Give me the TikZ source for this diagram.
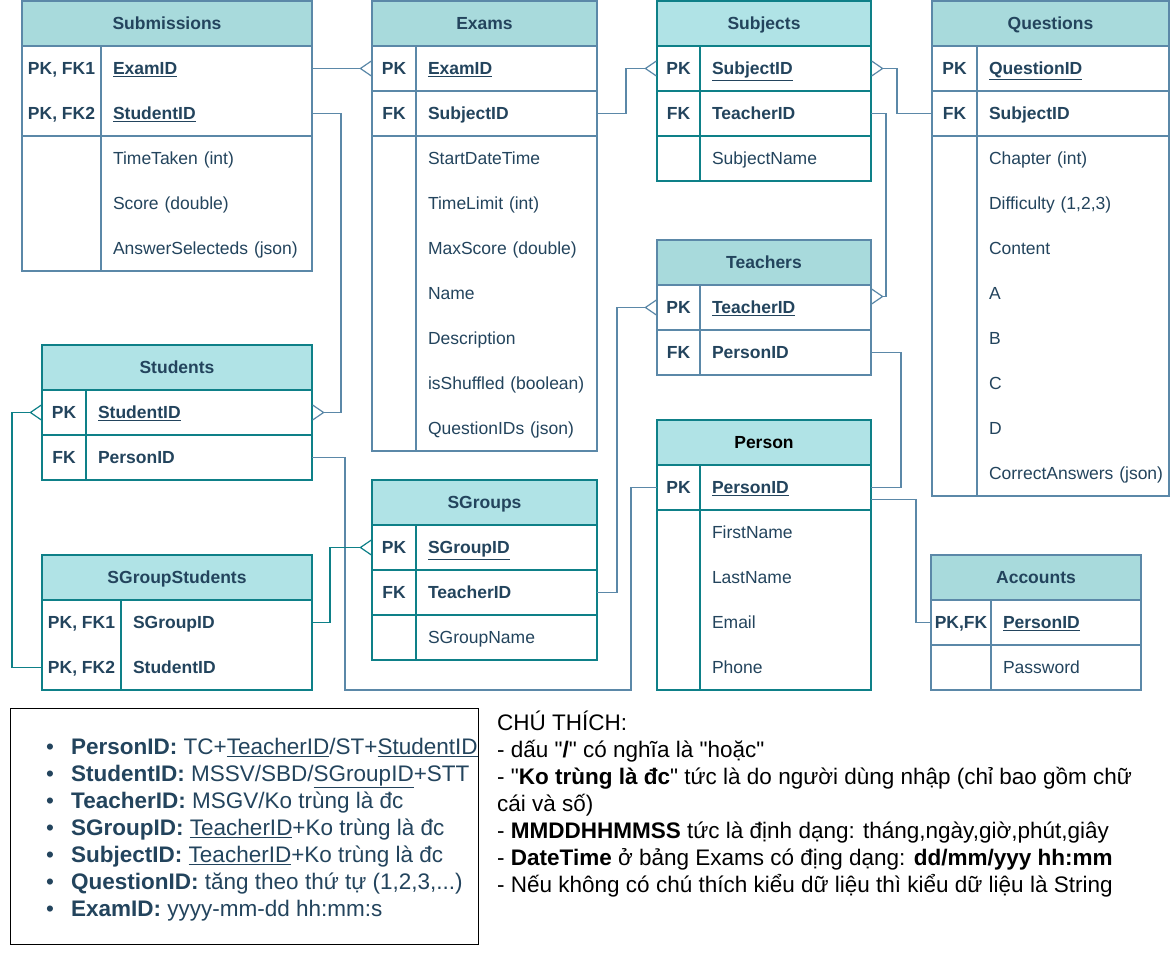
\documentclass[tikz,border=0pt]{standalone}
\usepackage{fontspec}
\setmainfont{Liberation Sans}
\usepackage{tikz}
\usetikzlibrary{positioning,arrows.meta}
\definecolor{inknavy}{HTML}{23445D}
\definecolor{steelline}{HTML}{5B88A8}
\definecolor{tealline}{HTML}{0E8088}
\definecolor{steelhead}{HTML}{A8DADC}
\definecolor{tealhead}{HTML}{B0E3E6}
\newcommand{\pkfield}[1]{\textbf{\underline{#1}}}
\newcommand{\qq}{\textquotedbl}

\begin{document}
\begin{tikzpicture}[
    x=1pt, y=-1pt,
    head/.style={draw=#1line, fill=#1head, line width=1.2pt, anchor=north west,
        minimum height=45pt, inner sep=0pt, outer sep=0pt, text height=16pt, text depth=3.5pt,
        text=inknavy, font=\fontsize{17.5}{21}\selectfont\bfseries},
    kcell/.style={anchor=north west, minimum width=#1, minimum height=45pt, inner sep=0pt,
        outer sep=0pt, text height=16pt, text depth=3.5pt, text=inknavy,
        font=\fontsize{17.5}{21}\selectfont\bfseries, line width=1.2pt},
    fcell/.style={anchor=north west, text width=#1, align=left, inner xsep=12pt, inner ysep=0pt,
        outer sep=0pt, minimum height=45pt, text height=16pt, text depth=3.5pt, text=inknavy,
        font=\fontsize{17.5}{21}\selectfont, line width=1.2pt},
    blk/.style={draw=#1line, line width=1.2pt},
    conn/.style={draw=#1line, line width=1.2pt},
    crow/.style={-{Straight Barb[reversed,length=11pt,width=15pt]}},
    crowstart/.style={{Straight Barb[reversed,length=11pt,width=15pt]}-},
    notetext/.style={anchor=north west, align=left, inner sep=0pt, font=\fontsize{22.5}{27}\selectfont}
]
\fill[white] (0,0) rectangle (1172,977);
\useasboundingbox (0,0) rectangle (1172,977);

% Submissions
\node[head=steel, minimum width=290pt] (sub) at (22,1) {Submissions};
\node[kcell=79pt] (sub-k1) at (sub.south west) {PK, FK1};
\node[kcell=79pt] (sub-k2) at (sub-k1.south west) {PK, FK2};
\node[fcell=187pt] (sub-f1) at (sub-k1.north east) {\pkfield{ExamID}};
\node[fcell=187pt] (sub-f2) at (sub-f1.south west) {\pkfield{StudentID}};
\node[kcell=79pt, minimum height=135pt, blk=steel] (sub-k3) at (sub-k2.south west) {};
\node[fcell=187pt] (sub-f3) at (sub-k3.north east) {TimeTaken (int)};
\node[fcell=187pt] (sub-f4) at (sub-f3.south west) {Score (double)};
\node[fcell=187pt] (sub-f5) at (sub-f4.south west) {AnswerSelecteds (json)};
\draw[blk=steel] (sub-k1.north west) rectangle (sub-k2.south east);
\draw[blk=steel] (sub-f1.north west) rectangle (sub-f2.south east);
\draw[blk=steel] (sub-f3.north west) rectangle (sub-f5.south east);

% Exams
\node[head=steel, minimum width=225pt] (exm) at (372,1) {Exams};
\node[kcell=44pt, blk=steel] (exm-k1) at (exm.south west) {PK};
\node[fcell=157pt, blk=steel] (exm-f1) at (exm-k1.north east) {\pkfield{ExamID}};
\node[kcell=44pt, blk=steel] (exm-k2) at (exm-k1.south west) {FK};
\node[fcell=157pt, blk=steel] (exm-f2) at (exm-k2.north east) {\textbf{SubjectID}};
\node[kcell=44pt, minimum height=315pt, blk=steel] (exm-k3) at (exm-k2.south west) {};
\node[fcell=157pt] (exm-f3) at (exm-k3.north east) {StartDateTime};
\node[fcell=157pt] (exm-f4) at (exm-f3.south west) {TimeLimit (int)};
\node[fcell=157pt] (exm-f5) at (exm-f4.south west) {MaxScore (double)};
\node[fcell=157pt] (exm-f6) at (exm-f5.south west) {Name};
\node[fcell=157pt] (exm-f7) at (exm-f6.south west) {Description};
\node[fcell=157pt] (exm-f8) at (exm-f7.south west) {\mbox{isShuffled (boolean)}};
\node[fcell=157pt] (exm-f9) at (exm-f8.south west) {QuestionIDs (json)};
\draw[blk=steel] (exm-f3.north west) rectangle (exm-f9.south east);

% Subjects
\node[head=teal, minimum width=214pt] (subj) at (657,1) {Subjects};
\node[kcell=43pt, blk=teal] (subj-k1) at (subj.south west) {PK};
\node[fcell=147pt, blk=teal] (subj-f1) at (subj-k1.north east) {\pkfield{SubjectID}};
\node[kcell=43pt, blk=teal] (subj-k2) at (subj-k1.south west) {FK};
\node[fcell=147pt, blk=teal] (subj-f2) at (subj-k2.north east) {\textbf{TeacherID}};
\node[kcell=43pt, blk=teal] (subj-k3) at (subj-k2.south west) {};
\node[fcell=147pt, blk=teal] (subj-f3) at (subj-k3.north east) {SubjectName};

% Questions
\node[head=steel, minimum width=237pt] (q) at (932,1) {Questions};
\node[kcell=45pt, blk=steel] (q-k1) at (q.south west) {PK};
\node[fcell=168pt, blk=steel] (q-f1) at (q-k1.north east) {\pkfield{QuestionID}};
\node[kcell=45pt, blk=steel] (q-k2) at (q-k1.south west) {FK};
\node[fcell=168pt, blk=steel] (q-f2) at (q-k2.north east) {\textbf{SubjectID}};
\node[kcell=45pt, minimum height=360pt, blk=steel] (q-k3) at (q-k2.south west) {};
\node[fcell=168pt] (q-f3) at (q-k3.north east) {Chapter (int)};
\node[fcell=168pt] (q-f4) at (q-f3.south west) {Difficulty (1,2,3)};
\node[fcell=168pt] (q-f5) at (q-f4.south west) {Content};
\node[fcell=168pt] (q-f6) at (q-f5.south west) {A};
\node[fcell=168pt] (q-f7) at (q-f6.south west) {B};
\node[fcell=168pt] (q-f8) at (q-f7.south west) {C};
\node[fcell=168pt] (q-f9) at (q-f8.south west) {D};
\node[fcell=168pt] (q-f10) at (q-f9.south west) {\mbox{CorrectAnswers (json)}};
\draw[blk=steel] (q-f3.north west) rectangle (q-f10.south east);

% Teachers
\node[head=steel, minimum width=214pt] (tch) at (657,240) {Teachers};
\node[kcell=43pt, blk=steel] (tch-k1) at (tch.south west) {PK};
\node[fcell=147pt, blk=steel] (tch-f1) at (tch-k1.north east) {\pkfield{TeacherID}};
\node[kcell=43pt, blk=steel] (tch-k2) at (tch-k1.south west) {FK};
\node[fcell=147pt, blk=steel] (tch-f2) at (tch-k2.north east) {\textbf{PersonID}};

% Person
\node[head=teal, minimum width=214pt, text=black] (per) at (657,420) {Person};
\node[kcell=43pt, blk=teal] (per-k1) at (per.south west) {PK};
\node[fcell=147pt, blk=teal] (per-f1) at (per-k1.north east) {\pkfield{PersonID}};
\node[kcell=43pt, minimum height=180pt, blk=teal] (per-k2) at (per-k1.south west) {};
\node[fcell=147pt] (per-f2) at (per-k2.north east) {FirstName};
\node[fcell=147pt] (per-f3) at (per-f2.south west) {LastName};
\node[fcell=147pt] (per-f4) at (per-f3.south west) {Email};
\node[fcell=147pt] (per-f5) at (per-f4.south west) {Phone};
\draw[blk=teal] (per-f2.north west) rectangle (per-f5.south east);

% Students
\node[head=teal, minimum width=270pt] (stu) at (42,345) {Students};
\node[kcell=44pt, blk=teal] (stu-k1) at (stu.south west) {PK};
\node[fcell=202pt, blk=teal] (stu-f1) at (stu-k1.north east) {\pkfield{StudentID}};
\node[kcell=44pt, blk=teal] (stu-k2) at (stu-k1.south west) {FK};
\node[fcell=202pt, blk=teal] (stu-f2) at (stu-k2.north east) {\textbf{PersonID}};

% SGroupStudents
\node[head=teal, minimum width=270pt] (sgs) at (42,555) {SGroupStudents};
\node[kcell=79pt] (sgs-k1) at (sgs.south west) {PK, FK1};
\node[kcell=79pt] (sgs-k2) at (sgs-k1.south west) {PK, FK2};
\node[fcell=167pt] (sgs-f1) at (sgs-k1.north east) {\textbf{SGroupID}};
\node[fcell=167pt] (sgs-f2) at (sgs-f1.south west) {\textbf{StudentID}};
\draw[blk=teal] (sgs-k1.north west) rectangle (sgs-k2.south east);
\draw[blk=teal] (sgs-f1.north west) rectangle (sgs-f2.south east);

% SGroups
\node[head=teal, minimum width=225pt] (sgr) at (372,480) {SGroups};
\node[kcell=44pt, blk=teal] (sgr-k1) at (sgr.south west) {PK};
\node[fcell=157pt, blk=teal] (sgr-f1) at (sgr-k1.north east) {\pkfield{SGroupID}};
\node[kcell=44pt, blk=teal] (sgr-k2) at (sgr-k1.south west) {FK};
\node[fcell=157pt, blk=teal] (sgr-f2) at (sgr-k2.north east) {\textbf{TeacherID}};
\node[kcell=44pt, blk=teal] (sgr-k3) at (sgr-k2.south west) {};
\node[fcell=157pt, blk=teal] (sgr-f3) at (sgr-k3.north east) {SGroupName};

% Accounts
\node[head=steel, minimum width=210pt] (acc) at (931,555) {Accounts};
\node[kcell=60pt, blk=steel] (acc-k1) at (acc.south west) {PK,FK};
\node[fcell=126pt, blk=steel] (acc-f1) at (acc-k1.north east) {\pkfield{PersonID}};
\node[kcell=60pt, blk=steel] (acc-k2) at (acc-k1.south west) {};
\node[fcell=126pt, blk=steel] (acc-f2) at (acc-k2.north east) {Password};

% relations
\draw[conn=steel, crow] (sub-f1.east) -- (exm-k1.west);
\draw[conn=steel, crow] (sub-f2.east) -- ++(29,0) |- (stu-f1.east);
\draw[conn=steel, crow] (exm-f2.east) -- ++(29,0) |- (subj-k1.west);
\draw[conn=steel, crowstart] (subj-f1.east) -- ++(26,0) |- (q-k2.west);
\draw[conn=steel, crow] (subj-f2.east) -- ++(15,0) |- ([yshift=11pt]tch-f1.east);
\draw[conn=steel, crow] (sgr-f2.east) -- ++(20,0) |- (tch-k1.west);
\draw[conn=steel] (tch-f2.east) -- ++(30,0) |- (per-f1.east);
\draw[conn=steel] ([yshift=-12pt]per-f1.east) -| ([xshift=-15pt]acc-k1.west) -- (acc-k1.west);
\draw[conn=steel] (stu-f2.east) -- ++(33,0) -- ++(0,232.5) -| ([xshift=-26pt]per-k1.west) -- (per-k1.west);
\draw[conn=teal, crow] (sgs-f1.east) -- ++(18,0) |- (sgr-k1.west);
\draw[conn=teal, crow] (sgs-k2.west) -- ++(-30,0) |- (stu-k1.west);

% legend
\node[draw=black, line width=1pt, anchor=north west, minimum width=468pt, minimum height=236pt,
    inner sep=0pt, outer sep=0pt] (legend) at (10,708) {};
\node[notetext, text=inknavy] (legtext) at (46,734) {%
\rule{0pt}{20pt}\makebox[25pt][l]{\textbullet}\textbf{PersonID:} TC+\underline{TeacherID}/ST+\underline{StudentID}\\
\makebox[25pt][l]{\textbullet}\textbf{StudentID:} MSSV/SBD/\underline{SGroupID}+STT\\
\makebox[25pt][l]{\textbullet}\textbf{TeacherID:} MSGV/Ko trùng là đc\\
\makebox[25pt][l]{\textbullet}\textbf{SGroupID:} \underline{TeacherID}+Ko trùng là đc\\
\makebox[25pt][l]{\textbullet}\textbf{SubjectID:} \underline{TeacherID}+Ko trùng là đc\\
\makebox[25pt][l]{\textbullet}\textbf{QuestionID:} tăng theo thứ tự (1,2,3,...)\\
\makebox[25pt][l]{\textbullet}\textbf{ExamID:} yyyy-mm-dd hh:mm:s};

% notes
\node[notetext, text=black] (note) at (497,710) {%
\rule{0pt}{20pt}CHÚ THÍCH:\\
- dấu \qq\textbf{/}\qq{} có nghĩa là \qq hoặc\qq\\
- \qq\textbf{Ko trùng là đc}\qq{} tức là do người dùng nhập (chỉ bao gồm chữ\\
cái và số)\\
- \textbf{MMDDHHMMSS} tức là định dạng: tháng,ngày,giờ,phút,giây\\
- \textbf{DateTime} ở bảng Exams có địng dạng: \textbf{dd/mm/yyy hh:mm}\\
- Nếu không có chú thích kiểu dữ liệu thì kiểu dữ liệu là String};
\end{tikzpicture}
\end{document}
